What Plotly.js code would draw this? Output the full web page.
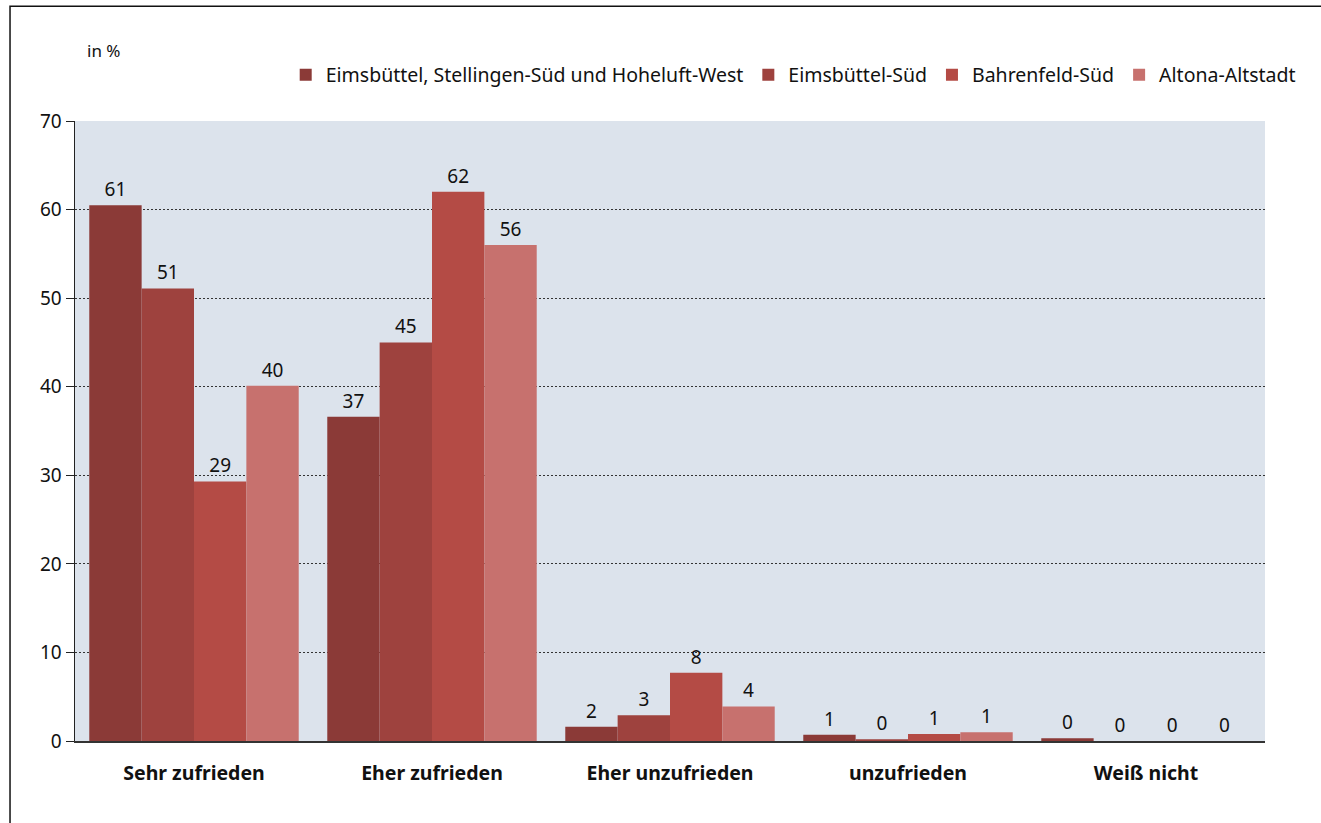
<!DOCTYPE html>
<html>
<head>
<meta charset="utf-8">
<script src="https://cdn.plot.ly/plotly-3.0.1.min.js"></script>
<style>
html,body{margin:0;padding:0;background:#fff;}
#chart{width:1321px;height:823px;}
</style>
</head>
<body>
<div id="chart"></div>
<script>
const categories = ["Sehr zufrieden", "Eher zufrieden", "Eher unzufrieden", "unzufrieden", "Weiß nicht"];
const seriesNames = ["Eimsbüttel, Stellingen-Süd und Hoheluft-West", "Eimsbüttel-Süd", "Bahrenfeld-Süd", "Altona-Altstadt"];
const valuesS1 = [60.5, 36.6, 1.6, 0.7, 0.3];
const valuesS2 = [51.1, 45.0, 2.9, 0.2, 0.0];
const valuesS3 = [29.3, 62.0, 7.7, 0.8, 0.0];
const valuesS4 = [40.1, 56.0, 3.9, 1.0, 0.0];
const labelsS1 = ["61", "37", "2", "1", "0"];
const labelsS2 = ["51", "45", "3", "0", "0"];
const labelsS3 = ["29", "62", "8", "1", "0"];
const labelsS4 = ["40", "56", "4", "1", "0"];
const colors = ["#8B3A37", "#9E423E", "#B44B45", "#C7716E"];

const allValues = [valuesS1, valuesS2, valuesS3, valuesS4];
const allLabels = [labelsS1, labelsS2, labelsS3, labelsS4];
const font = "'Noto Sans', 'Open Sans', sans-serif";

const traces = seriesNames.map((name, i) => ({
  type: "bar",
  name: name,
  x: categories,
  y: allValues[i],
  text: allLabels[i],
  texttemplate: "%{text}",
  textposition: "outside",
  cliponaxis: false,
  textfont: {family: font, size: 19, color: "#111"},
  marker: {color: colors[i], line: {width: 0}},
  hoverinfo: "x+y+name"
}));

const layout = {
  width: 1321,
  height: 823,
  margin: {l: 75, r: 56, t: 121, b: 82},
  paper_bgcolor: "#ffffff",
  plot_bgcolor: "#DCE3EC",
  barmode: "group",
  bargap: 0.12,
  bargroupgap: 0,
  font: {family: font, size: 19, color: "#111"},
  showlegend: true,
  legend: {
    orientation: "h",
    x: 1.03, xanchor: "right",
    y: 1.074, yanchor: "middle",
    font: {family: font, size: 19.5, color: "#111"},
    itemwidth: 30,
    traceorder: "normal",
    bgcolor: "rgba(0,0,0,0)"
  },
  xaxis: {
    type: "category",
    showgrid: false,
    showline: true,
    linecolor: "#333",
    linewidth: 2,
    ticks: "",
    tickfont: {family: font, size: 19.5, color: "#111", weight: "bold"},
    ticklabelstandoff: 14,
    fixedrange: true
  },
  yaxis: {
    range: [0, 70],
    dtick: 10,
    tick0: 0,
    showgrid: true,
    gridcolor: "#333",
    griddash: "2px,2px",
    gridwidth: 1,
    zeroline: false,
    showline: true,
    linecolor: "#222",
    linewidth: 1.5,
    ticks: "outside",
    ticklen: 8,
    tickcolor: "#222",
    tickfont: {family: font, size: 19, color: "#111"},
    fixedrange: true
  },
  annotations: [
    {text: "in %", xref: "paper", yref: "paper", x: 0.008, y: 1.113, xanchor: "left", yanchor: "middle",
     showarrow: false, font: {family: font, size: 17, color: "#111"}}
  ],
  shapes: [
    {type: "rect", xref: "paper", yref: "paper", x0: -0.0546, x1: 1.0504, y0: -0.16, y1: 1.185,
     line: {color: "#111", width: 1.5}, fillcolor: "rgba(0,0,0,0)", layer: "above"}
  ]
};

Plotly.newPlot("chart", traces, layout, {displayModeBar: false, staticPlot: true});
</script>
</body>
</html>
